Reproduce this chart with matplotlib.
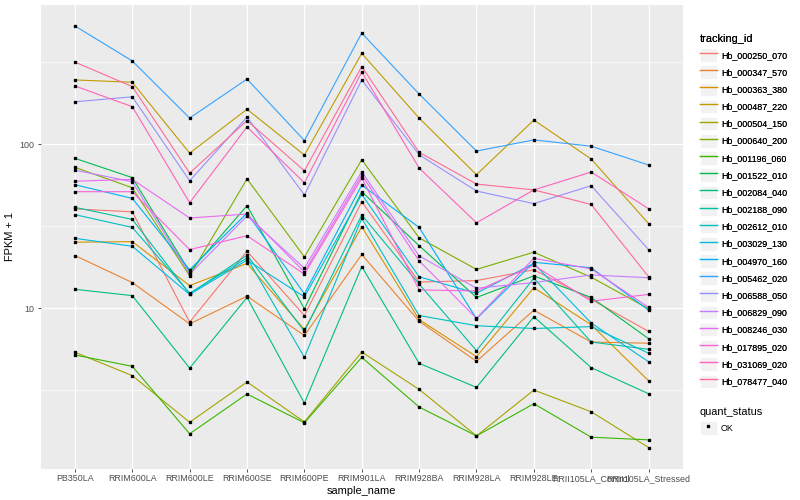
import matplotlib
matplotlib.use("Agg")
import matplotlib.pyplot as plt
import numpy as np
from matplotlib.lines import Line2D
from matplotlib.patches import Rectangle
from matplotlib.legend_handler import HandlerLine2D
from matplotlib.ticker import FixedLocator, NullFormatter

plt.rcParams['font.family'] = ['Liberation Sans', 'DejaVu Sans']

samples = ['PB350LA', 'RRIM600LA', 'RRIM600LE', 'RRIM600SE', 'RRIM600PE', 'RRIM901LA',
           'RRIM928BA', 'RRIM928LA', 'RRIM928LE', 'RRII105LA_Control', 'RRII105LA_Stressed']

tracking_ids = ['Hb_000250_070', 'Hb_000347_570', 'Hb_000363_380', 'Hb_000487_220',
                'Hb_000504_150', 'Hb_000640_200', 'Hb_001196_060', 'Hb_001522_010',
                'Hb_002084_040', 'Hb_002188_090', 'Hb_002612_010', 'Hb_003029_130',
                'Hb_004970_160', 'Hb_005462_020', 'Hb_006588_050', 'Hb_006829_090',
                'Hb_008246_030', 'Hb_017895_020', 'Hb_031069_020', 'Hb_078477_040']

# FPKM + 1, uma lista por gene (mesma ordem de 'samples')
hb_000250_070 = [40.2, 38.6, 8.2, 22.2, 9.0, 44.5, 14.4, 14.7, 17.1, 11.3, 7.2]
hb_000347_570 = [20.9, 14.3, 8.0, 11.8, 6.8, 21.2, 8.3, 4.73, 9.7, 6.2, 6.1]
hb_000363_380 = [25.2, 25.4, 13.7, 18.7, 7.4, 31.3, 8.5, 5.05, 13.3, 7.9, 3.6]
hb_000487_220 = [246, 238, 88, 163, 85.7, 357, 144, 65, 140, 81, 32.7]
hb_000504_150 = [5.37, 3.87, 2.01, 3.54, 2.02, 5.39, 3.19, 1.66, 3.16, 2.33, 1.41]
hb_000640_200 = [72.1, 54.1, 15.7, 61.3, 20.5, 80.2, 26.8, 17.2, 21.9, 15.4, 9.9]
hb_001196_060 = [5.17, 4.41, 1.71, 2.99, 1.995, 5.0, 2.49, 1.66, 2.61, 1.63, 1.57]
hb_001522_010 = [81.8, 62.4, 16.6, 42.1, 9.9, 51.2, 24.0, 11.6, 15.7, 11.6, 6.5]
hb_002084_040 = [13.0, 11.9, 4.3, 11.6, 2.63, 17.9, 4.6, 3.28, 8.85, 4.33, 3.0]
hb_002188_090 = [41.1, 34.7, 12.2, 21.0, 7.2, 36.9, 14.0, 5.5, 15.2, 6.2, 5.6]
hb_002612_010 = [37.1, 31.0, 12.3, 20.2, 5.0, 35.2, 9.0, 7.8, 7.5, 7.7, 5.3]
hb_003029_130 = [26.6, 23.8, 12.1, 19.6, 11.7, 49.3, 15.5, 12.3, 18.7, 8.1, 4.7]
hb_004970_160 = [56.5, 46.6, 17.1, 37.9, 12.2, 56.2, 31.0, 8.6, 19.0, 17.6, 9.7]
hb_005462_020 = [525, 321, 144, 249, 105, 475, 202, 90.6, 106, 97, 74.5]
hb_006588_050 = [181, 194, 59.7, 146, 48.9, 246, 86, 51.7, 43.3, 55.7, 22.7]
hb_006829_090 = [69.3, 58.9, 16.1, 36.4, 17.5, 67.8, 20.8, 13.2, 14.3, 15.9, 15.3]
hb_008246_030 = [59.3, 60.9, 35.4, 37.4, 16.6, 64.7, 19.4, 8.65, 20.1, 17.3, 10.1]
hb_017895_020 = [51.2, 51.2, 22.7, 27.6, 16.1, 62, 12.9, 12.7, 18.2, 11.0, 12.1]
hb_031069_020 = [226, 169, 43.9, 127, 58, 275, 71.4, 33.1, 52.5, 67.5, 40.3]
hb_078477_040 = [316, 224, 66.5, 139, 68.7, 297, 89, 57, 52.5, 42.8, 15.5]

series = [hb_000250_070, hb_000347_570, hb_000363_380, hb_000487_220, hb_000504_150,
          hb_000640_200, hb_001196_060, hb_001522_010, hb_002084_040, hb_002188_090,
          hb_002612_010, hb_003029_130, hb_004970_160, hb_005462_020, hb_006588_050,
          hb_006829_090, hb_008246_030, hb_017895_020, hb_031069_020, hb_078477_040]


def hcl_hex(h, c=100.0, l=65.0):
    """Converte HCL (polar Luv) para hex, como o hue_pal do ggplot."""
    hr = np.deg2rad(h)
    u = c * np.cos(hr)
    v = c * np.sin(hr)
    xn, yn, zn = 95.047, 100.0, 108.883
    den = xn + 15 * yn + 3 * zn
    un, vn = 4 * xn / den, 9 * yn / den
    Y = yn * ((l + 16) / 116) ** 3
    up = u / (13 * l) + un
    vp = v / (13 * l) + vn
    X = Y * 9 * up / (4 * vp)
    Z = Y * (12 - 3 * up - 20 * vp) / (4 * vp)
    X, Y, Z = X / 100, Y / 100, Z / 100
    rgb = np.array([3.2404542 * X - 1.5371385 * Y - 0.4985314 * Z,
                    -0.9692660 * X + 1.8760108 * Y + 0.0415560 * Z,
                    0.0556434 * X - 0.2040259 * Y + 1.0572252 * Z])
    rgb = np.where(rgb <= 0.0031308, 12.92 * rgb, 1.055 * np.power(np.clip(rgb, 0, None), 1 / 2.4) - 0.055)
    rgb = np.clip(rgb, 0, 1)
    return '#%02x%02x%02x' % tuple(int(round(x * 255)) for x in rgb)


n = len(tracking_ids)
hues = np.linspace(15, 375, n + 1)[:n]
colors = [hcl_hex(h) for h in hues]


class KeyHandler(HandlerLine2D):
    """Chave da legenda com fundo cinza, estilo ggplot."""
    def create_artists(self, legend, orig_handle, xdescent, ydescent, width, height, fontsize, trans):
        bg = Rectangle((-xdescent, -ydescent), width, height, facecolor='#F2F2F2',
                       edgecolor='white', linewidth=0.6, transform=trans)
        arts = super().create_artists(legend, orig_handle, xdescent, ydescent, width, height, fontsize, trans)
        return [bg] + list(arts)


fig = plt.figure(figsize=(8, 5), dpi=100)
ax = fig.add_axes([40.5 / 800, 1 - 468.5 / 500, (683 - 40.5) / 800, (468.5 - 5.3) / 500])
ax.set_facecolor('#EBEBEB')

x = np.arange(len(samples))
for vals, col in zip(series, colors):
    ax.plot(x, vals, color=col, lw=0.8, zorder=3)
for vals in series:
    ax.plot(x, vals, linestyle='none', marker='s', markersize=2.0, color='black', zorder=4)

ax.set_yscale('log')
ax.set_ylim(10 ** 0.0213, 10 ** 2.846)
ax.set_xlim(-0.6, len(samples) - 1 + 0.6)

ax.yaxis.set_major_locator(FixedLocator([10, 100]))
ax.yaxis.set_minor_locator(FixedLocator([10 ** 0.5, 10 ** 1.5, 10 ** 2.5]))
ax.yaxis.set_minor_formatter(NullFormatter())
ax.set_yticklabels(['10', '100'])
ax.set_xticks(x)
ax.set_xticklabels(samples)

ax.grid(True, which='major', color='white', lw=0.9, zorder=0)
ax.grid(True, which='minor', axis='y', color='white', lw=0.45, zorder=0)
ax.set_axisbelow(True)
for s in ax.spines.values():
    s.set_visible(False)
ax.tick_params(axis='both', which='major', length=2.2, width=0.6, color='#333333',
               labelsize=6.4, labelcolor='#4D4D4D', pad=2)
ax.tick_params(axis='y', which='minor', length=0)

ax.set_xlabel('sample_name', fontsize=7.9, labelpad=2)
ax.set_ylabel('FPKM + 1', fontsize=7.9, labelpad=3)

handles = [Line2D([], [], color=c, lw=1.0) for c in colors]
leg1 = fig.legend(handles, tracking_ids, title='tracking_id', loc='upper left',
                  bbox_to_anchor=(695.5 / 800, 1 - 30 / 500), frameon=False, fontsize=6.4,
                  title_fontsize=7.9, handlelength=1.9, handleheight=1.95, labelspacing=0.42,
                  handletextpad=0.45, borderpad=0, alignment='left',
                  handler_map={Line2D: KeyHandler()})
fig.add_artist(leg1)

ok_handle = Line2D([], [], linestyle='none', marker='s', markersize=2.0, color='black')
leg2 = fig.legend([ok_handle], ['OK'], title='quant_status', loc='upper left',
                  bbox_to_anchor=(695.5 / 800, 1 - 403 / 500), frameon=False, fontsize=6.4,
                  title_fontsize=7.9, handlelength=1.9, handleheight=1.95, labelspacing=0.42,
                  handletextpad=0.45, borderpad=0, alignment='left',
                  handler_map={Line2D: KeyHandler()})

fig.savefig('out.png', dpi=100)
